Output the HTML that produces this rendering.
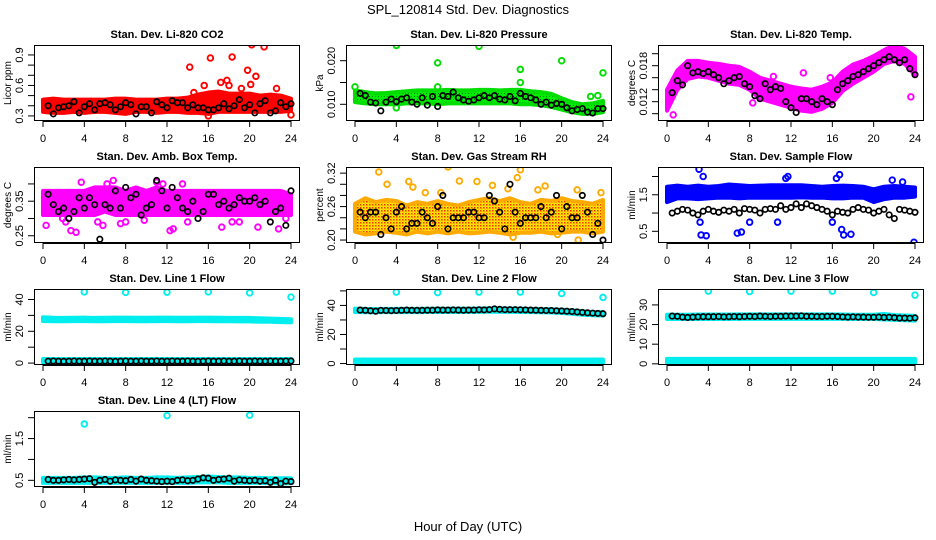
<!DOCTYPE html>
<html><head><meta charset="utf-8"><style>
html,body{margin:0;padding:0;background:#fff;}
svg{display:block;font-family:"Liberation Sans",Arial,sans-serif;}
</style></head><body>
<svg id="chart" width="936" height="540" viewBox="0 0 936 540" xmlns="http://www.w3.org/2000/svg">
<defs>
<pattern id="rhpat" width="3" height="3" patternUnits="userSpaceOnUse"><rect width="3" height="3" fill="#ffee00"/><rect width="1.5" height="1.5" fill="#ee3300"/><rect x="1.5" y="1.5" width="1" height="1" fill="#ff8800"/></pattern>
<pattern id="grpat" width="3" height="3" patternUnits="userSpaceOnUse"><rect width="3" height="3" fill="#00ee00"/><rect width="1" height="1" fill="#007700"/></pattern>
</defs>
<text x="468" y="14" font-size="13" text-anchor="middle">SPL_120814  Std. Dev. Diagnostics</text>
<text x="468" y="531" font-size="13" text-anchor="middle">Hour of Day (UTC)</text>
</svg>
<script>
// shared hour positions for black (reference) series
const blkHours = [];
for (let i = 1; i <= 48; i++) blkHours.push(i * 0.5);
const bandHours = [0,1,2,3,4,5,6,7,8,9,10,11,12,13,14,15,16,17,18,19,20,21,22,23,24];
const xTicks = [0,4,8,12,16,20,24];

// Panel 1: CO2
const co2BandLo = [0.34,0.33,0.33,0.34,0.33,0.34,0.34,0.33,0.32,0.34,0.34,0.33,0.34,0.34,0.33,0.33,0.32,0.34,0.34,0.34,0.34,0.34,0.34,0.34,0.35];
const co2BandHi = [0.46,0.47,0.46,0.46,0.46,0.46,0.46,0.47,0.47,0.46,0.46,0.46,0.47,0.47,0.48,0.51,0.53,0.54,0.52,0.52,0.52,0.50,0.51,0.50,0.47];
const co2OutX = [14.2,16.2,18.3,19.8,20.2,21.4,20.6,17.2,17.8,15.6,14.6,19.2,22.6,24.0,16.0,20.1,18.0];
const co2OutY = [0.78,0.87,0.88,0.75,1.00,0.98,0.69,0.63,0.65,0.60,0.53,0.57,0.57,0.31,0.30,0.61,0.60];
const co2Black = [0.40,0.32,0.38,0.39,0.40,0.44,0.33,0.39,0.42,0.36,0.42,0.43,0.41,0.36,0.39,0.43,0.41,0.32,0.39,0.39,0.33,0.44,0.41,0.38,0.45,0.43,0.43,0.38,0.41,0.38,0.38,0.36,0.36,0.38,0.42,0.37,0.40,0.46,0.38,0.41,0.33,0.42,0.45,0.33,0.35,0.43,0.39,0.42];

// Panel 2: pressure
const presBandLo = [0.0105,0.0102,0.0100,0.0100,0.0100,0.0102,0.0102,0.0102,0.0100,0.0102,0.0102,0.0102,0.0102,0.0102,0.0102,0.0102,0.0100,0.0100,0.0098,0.0094,0.0088,0.0082,0.0078,0.0078,0.0082];
const presBandHi = [0.0132,0.0128,0.0125,0.0126,0.0128,0.0130,0.0132,0.0132,0.0132,0.0133,0.0132,0.0132,0.0133,0.0133,0.0132,0.0133,0.0133,0.0130,0.0128,0.0124,0.0114,0.0105,0.0100,0.0102,0.0108];
const presOutX = [4.0,12.0,8.0,16.0,20.0,24.0,0.0,16.0,8.0,4.0,23.5,22.8];
const presOutY = [0.0235,0.0233,0.0195,0.0180,0.0200,0.0172,0.0140,0.0150,0.0140,0.0092,0.0120,0.0118];
const presBlack = [0.0125,0.0120,0.0105,0.0103,0.0085,0.0105,0.0112,0.0106,0.0112,0.0115,0.0105,0.0100,0.0115,0.0098,0.0118,0.0095,0.0120,0.0118,0.0128,0.0115,0.0110,0.0107,0.0110,0.0115,0.0120,0.0115,0.0120,0.0112,0.0110,0.0118,0.0108,0.0125,0.0118,0.0115,0.0110,0.0100,0.0105,0.0098,0.0102,0.0100,0.0092,0.0085,0.0088,0.0090,0.0082,0.0080,0.0090,0.0090];

// Panel 3: Li-820 temperature
const tempBandLo = [0.0105,0.0140,0.0158,0.0162,0.0160,0.0155,0.0150,0.0148,0.0140,0.0125,0.0120,0.0115,0.0110,0.0105,0.0103,0.0108,0.0118,0.0138,0.0150,0.0160,0.0170,0.0183,0.0188,0.0183,0.0165];
const tempBandHi = [0.0140,0.0172,0.0188,0.0188,0.0185,0.0183,0.0180,0.0178,0.0170,0.0160,0.0155,0.0150,0.0145,0.0142,0.0140,0.0145,0.0152,0.0170,0.0182,0.0188,0.0196,0.0206,0.0214,0.0208,0.0195];
const tempOutX = [0.6,10.3,13.2,15.8,23.6,8.3,6.2];
const tempOutY = [0.0098,0.0162,0.0168,0.0160,0.0128,0.0118,0.0158];
const tempBlack = [0.0135,0.0155,0.0148,0.0180,0.0168,0.0170,0.0167,0.0170,0.0165,0.0160,0.0150,0.0155,0.0160,0.0162,0.0150,0.0145,0.0130,0.0125,0.0150,0.0140,0.0145,0.0142,0.0120,0.0110,0.0102,0.0125,0.0125,0.0120,0.0115,0.0125,0.0120,0.0115,0.0140,0.0150,0.0155,0.0162,0.0165,0.0170,0.0175,0.0180,0.0185,0.0190,0.0195,0.0190,0.0185,0.0190,0.0175,0.0165];

// Panel 4: ambient box temperature
const ambBandLo = [0.31,0.31,0.31,0.31,0.31,0.31,0.32,0.31,0.31,0.31,0.31,0.31,0.31,0.31,0.31,0.31,0.31,0.31,0.31,0.31,0.31,0.31,0.31,0.31,0.31];
const ambBandHi = [0.38,0.38,0.38,0.38,0.38,0.39,0.39,0.39,0.38,0.39,0.38,0.39,0.38,0.38,0.38,0.38,0.38,0.38,0.38,0.38,0.38,0.38,0.38,0.38,0.37];
const ambOutX = [0.3,2.7,3.2,2.2,5.8,6.2,6.8,7.5,8.0,9.8,11.0,11.6,12.3,12.6,14.0,17.3,18.3,19.0,20.8,22.8,23.5,3.7,5.3,1.9,13.5];
const ambOutY = [0.28,0.265,0.26,0.29,0.28,0.40,0.41,0.285,0.29,0.295,0.405,0.40,0.265,0.27,0.29,0.275,0.29,0.29,0.275,0.27,0.30,0.405,0.29,0.30,0.40];
const ambBlack = [0.37,0.34,0.32,0.33,0.30,0.32,0.36,0.33,0.36,0.34,0.24,0.34,0.33,0.38,0.33,0.39,0.36,0.37,0.31,0.33,0.34,0.41,0.38,0.33,0.39,0.36,0.33,0.32,0.35,0.30,0.32,0.37,0.37,0.34,0.35,0.33,0.34,0.36,0.35,0.35,0.36,0.34,0.35,0.29,0.32,0.33,0.28,0.38];

// Panel 5: gas stream RH
const rhBandLo = [0.215,0.210,0.212,0.215,0.213,0.210,0.215,0.212,0.215,0.212,0.215,0.212,0.213,0.215,0.213,0.210,0.213,0.213,0.215,0.212,0.213,0.215,0.215,0.212,0.215];
const rhBandHi = [0.265,0.275,0.268,0.272,0.270,0.262,0.268,0.265,0.270,0.265,0.262,0.268,0.272,0.275,0.270,0.275,0.268,0.265,0.272,0.270,0.275,0.270,0.268,0.265,0.272];
const rhOutX = [2.3,9.0,16.0,3.1,5.2,5.6,10.1,11.8,13.3,14.8,17.7,18.4,21.5,23.8,6.8,8.3,15.3,21.6,19.6,15.7];
const rhOutY = [0.322,0.331,0.326,0.300,0.305,0.295,0.306,0.305,0.298,0.292,0.290,0.297,0.290,0.285,0.285,0.285,0.205,0.200,0.210,0.312];
const rhBlack = [0.25,0.24,0.25,0.25,0.21,0.24,0.22,0.25,0.26,0.22,0.23,0.23,0.25,0.24,0.23,0.26,0.28,0.22,0.24,0.24,0.24,0.25,0.25,0.24,0.24,0.28,0.27,0.25,0.22,0.30,0.25,0.23,0.24,0.24,0.24,0.26,0.24,0.25,0.28,0.22,0.26,0.24,0.24,0.28,0.25,0.21,0.23,0.20];

// Panel 6: sample flow
const sfBandLo = [1.30,1.40,1.40,1.38,1.40,1.42,1.42,1.40,1.42,1.42,1.42,1.42,1.42,1.43,1.42,1.42,1.40,1.40,1.42,1.42,1.30,1.38,1.42,1.42,1.45];
const sfBandHi = [1.72,1.75,1.72,1.75,1.72,1.74,1.78,1.76,1.74,1.75,1.76,1.76,1.76,1.76,1.74,1.72,1.74,1.75,1.74,1.72,1.65,1.72,1.74,1.72,1.70];
const sfOutX = [3.1,3.3,3.8,3.5,8.0,10.7,11.5,11.7,16.4,16.7,16.9,17.1,17.8,21.8,22.8,6.8,7.2,23.9,3.2,16.0];
const sfOutY = [2.2,0.40,0.38,2.0,0.75,0.75,1.95,2.0,1.95,2.05,0.55,0.40,0.42,1.9,1.85,0.45,0.48,0.20,0.75,0.75];
const sfBlack = [1.0,1.05,1.1,1.08,1.0,0.95,1.05,1.1,1.05,1.02,1.08,1.05,1.1,1.0,1.12,1.1,1.08,1.0,1.1,1.12,1.1,1.2,1.1,1.15,1.25,1.15,1.25,1.2,1.15,1.1,1.05,0.95,1.05,1.02,1.0,1.1,1.15,1.1,1.08,1.0,1.05,1.1,0.95,0.85,1.1,1.08,1.05,1.02];

// Panel 7: line 1 flow
const l1BandLo = [26.5,26.3,26.3,26.4,26.4,26.3,26.3,26.4,26.4,26.3,26.3,26.4,26.4,26.3,26.3,26.4,26.4,26.3,26.3,26.2,26.2,26.0,26.0,25.8,25.6];
const l1BandHi = [28.8,28.5,28.4,28.5,28.6,28.4,28.5,28.6,28.6,28.5,28.5,28.6,28.6,28.5,28.5,28.6,28.6,28.5,28.4,28.4,28.4,28.2,28.0,27.8,27.6];
const l1LowLo = [0.5,0.5,0.5,0.5,0.5,0.5,0.5,0.5,0.5,0.5,0.5,0.5,0.5,0.5,0.5,0.5,0.5,0.5,0.5,0.5,0.5,0.5,0.5,0.5,0.5];
const l1LowHi = [2.6,2.6,2.6,2.6,2.6,2.6,2.6,2.6,2.6,2.6,2.6,2.6,2.6,2.6,2.6,2.6,2.6,2.6,2.6,2.6,2.6,2.6,2.6,2.6,2.6];
const l1OutX = [4,8,12,16,20,24];
const l1OutY = [44.8,44.5,44.6,44.8,44.2,41.5];
const l1Black = [1.2,1.3,1.2,1.1,1.2,1.3,1.2,1.2,1.3,1.2,1.2,1.3,1.2,1.1,1.2,1.3,1.2,1.2,1.3,1.2,1.2,1.3,1.2,1.2,1.3,1.2,1.2,1.3,1.2,1.1,1.2,1.3,1.2,1.2,1.3,1.2,1.2,1.3,1.2,1.2,1.3,1.2,1.2,1.3,1.2,1.2,1.3,1.3];

// Panel 8: line 2 flow
const l2BandLo = [35.5,35.3,35.3,35.4,35.4,35.4,35.4,35.5,35.5,35.5,35.5,35.6,35.6,35.7,35.6,35.6,35.5,35.4,35.3,35.1,34.8,34.3,33.6,33.2,33.0];
const l2BandHi = [37.8,37.5,37.5,37.6,37.6,37.6,37.6,37.7,37.7,37.7,37.8,37.8,37.9,38.0,37.9,37.8,37.7,37.6,37.5,37.3,37.0,36.6,36.0,35.5,35.3];
const l2LowLo = [0.4,0.4,0.4,0.4,0.4,0.4,0.4,0.4,0.4,0.4,0.4,0.4,0.4,0.4,0.4,0.4,0.4,0.4,0.4,0.4,0.4,0.4,0.4,0.4,0.4];
const l2LowHi = [2.8,2.8,2.8,2.8,2.8,2.8,2.8,2.8,2.8,2.8,2.8,2.8,2.8,2.8,2.8,2.8,2.8,2.8,2.8,2.8,2.8,2.8,2.8,2.8,2.8];
const l2OutX = [4,8,12,16,20,24];
const l2OutY = [49.2,48.8,49.2,49.2,48.2,45.5];
const l2Black = [36.8,36.6,36.3,36.0,36.6,36.5,36.4,36.5,36.6,36.8,36.6,36.6,36.6,36.7,36.7,36.9,36.8,36.8,36.9,36.8,36.7,36.8,36.8,37.0,36.9,37.1,37.6,37.3,37.1,37.1,37.1,37.0,36.9,36.8,36.7,36.6,36.5,36.5,36.3,36.2,36.0,35.8,35.5,35.2,34.9,34.7,34.5,34.3];

// Panel 9: line 3 flow
const l3BandLo = [22.8,22.8,22.8,22.8,22.8,22.8,22.8,22.9,22.9,22.9,22.9,22.9,22.9,22.9,22.9,22.9,22.9,22.9,22.8,22.8,22.8,22.6,22.4,22.2,22.0];
const l3BandHi = [25.0,25.0,25.0,25.1,25.1,25.1,25.1,25.2,25.2,25.2,25.2,25.2,25.2,25.2,25.2,25.2,25.2,25.1,25.0,25.0,25.0,25.4,24.8,24.6,24.4];
const l3LowLo = [0.4,0.4,0.4,0.4,0.4,0.4,0.4,0.4,0.4,0.4,0.4,0.4,0.4,0.4,0.4,0.4,0.4,0.4,0.4,0.4,0.4,0.4,0.4,0.4,0.4];
const l3LowHi = [2.5,2.5,2.5,2.5,2.5,2.5,2.5,2.5,2.5,2.5,2.5,2.5,2.5,2.5,2.5,2.5,2.5,2.5,2.5,2.5,2.5,2.5,2.5,2.5,2.5];
const l3OutX = [4,8,12,16,20,24];
const l3OutY = [37.0,36.8,37.0,37.0,36.3,35.0];
const l3Black = [24.3,24.2,23.8,23.6,23.8,23.9,24.0,24.0,24.0,24.1,23.9,24.0,24.1,24.0,24.1,24.2,24.1,24.3,24.2,24.1,24.2,24.2,24.3,24.3,24.3,24.4,24.2,24.2,24.1,24.1,24.2,24.2,24.1,23.9,23.8,23.9,23.8,23.8,23.7,23.7,23.8,23.6,23.7,23.5,23.3,23.3,23.2,23.4];

// Panel 10: line 4 (LT) flow
const l4BandLo = [0.44,0.44,0.44,0.44,0.44,0.44,0.44,0.44,0.44,0.44,0.44,0.44,0.44,0.44,0.44,0.45,0.45,0.45,0.44,0.44,0.44,0.44,0.43,0.43,0.43];
const l4BandHi = [0.56,0.56,0.56,0.56,0.57,0.57,0.56,0.56,0.57,0.56,0.56,0.57,0.57,0.56,0.57,0.58,0.59,0.58,0.57,0.57,0.56,0.56,0.55,0.55,0.55];
const l4OutX = [4,12,20];
const l4OutY = [1.85,2.05,2.06];
const l4Black = [0.52,0.50,0.50,0.51,0.52,0.51,0.52,0.53,0.54,0.45,0.50,0.52,0.48,0.51,0.50,0.49,0.52,0.48,0.53,0.50,0.49,0.48,0.47,0.48,0.47,0.50,0.51,0.49,0.50,0.53,0.56,0.55,0.50,0.52,0.53,0.55,0.48,0.51,0.50,0.49,0.50,0.48,0.49,0.45,0.50,0.42,0.48,0.47];

const NS = 'http://www.w3.org/2000/svg';
const svg = document.getElementById('chart');
function mk(tag, attrs, parent) {
  const e = document.createElementNS(NS, tag);
  for (const k in attrs) e.setAttribute(k, attrs[k]);
  (parent || svg).appendChild(e);
  return e;
}

const panels = [
  {id:'co2', c:0, r:0, title:'Stan. Dev. Li-820 CO2', ylab:'Licor ppm', ymin:0.25, ymax:0.998, ticks:[0.3,0.4,0.5,0.6,0.7,0.8,0.9], labels:[[0.3,'0.3'],[0.6,'0.6'],[0.9,'0.9']], color:'#ff0000', fill:'#ff0000', bands:[[co2BandLo,co2BandHi]], outX:co2OutX, outY:co2OutY, blk:co2Black},
  {id:'pressure', c:1, r:0, title:'Stan. Dev. Li-820 Pressure', ylab:'kPa', ymin:0.00617, ymax:0.0236, ticks:[0.010,0.015,0.020], labels:[[0.010,'0.010'],[0.020,'0.020']], color:'#00dd00', fill:'url(#grpat)', bands:[[presBandLo,presBandHi]], outX:presOutX, outY:presOutY, blk:presBlack},
  {id:'li820-temp', c:2, r:0, title:'Stan. Dev. Li-820 Temp.', ylab:'degrees C', ymin:0.00878, ymax:0.02145, ticks:[0.010,0.012,0.014,0.016,0.018,0.020], labels:[[0.012,'0.012'],[0.018,'0.018']], color:'#ff00ff', fill:'#ff00ff', bands:[[tempBandLo,tempBandHi]], outX:tempOutX, outY:tempOutY, blk:tempBlack},
  {id:'amb-temp', c:0, r:1, title:'Stan. Dev. Amb. Box Temp.', ylab:'degrees C', ymin:0.229, ymax:0.449, ticks:[0.25,0.30,0.35,0.40], labels:[[0.25,'0.25'],[0.35,'0.35']], color:'#ff00ff', fill:'#ff00ff', bands:[[ambBandLo,ambBandHi]], outX:ambOutX, outY:ambOutY, blk:ambBlack},
  {id:'rh', c:1, r:1, title:'Stan. Dev. Gas Stream RH', ylab:'percent', ymin:0.1947, ymax:0.331, ticks:[0.20,0.22,0.24,0.26,0.28,0.30,0.32], labels:[[0.20,'0.20'],[0.26,'0.26'],[0.32,'0.32']], color:'#ffaa00', fill:'url(#rhpat)', bands:[[rhBandLo,rhBandHi]], outX:rhOutX, outY:rhOutY, blk:rhBlack},
  {id:'sample-flow', c:2, r:1, title:'Stan. Dev. Sample Flow', ylab:'ml/min', ymin:0.18, ymax:2.26, ticks:[0.5,1.0,1.5,2.0], labels:[[0.5,'0.5'],[1.5,'1.5']], color:'#0000ff', fill:'#0000ff', bands:[[sfBandLo,sfBandHi]], outX:sfOutX, outY:sfOutY, blk:sfBlack},
  {id:'line1-flow', c:0, r:2, title:'Stan. Dev. Line 1 Flow', ylab:'ml/min', ymin:-1.2, ymax:46.6, ticks:[0,10,20,30,40], labels:[[0,'0'],[20,'20'],[40,'40']], color:'#00eeee', fill:'#00eeee', bands:[[l1BandLo,l1BandHi],[l1LowLo,l1LowHi]], outX:l1OutX, outY:l1OutY, blk:l1Black},
  {id:'line2-flow', c:1, r:2, title:'Stan. Dev. Line 2 Flow', ylab:'ml/min', ymin:-1.0, ymax:51.3, ticks:[0,10,20,30,40,50], labels:[[0,'0'],[20,'20'],[40,'40']], color:'#00eeee', fill:'#00eeee', bands:[[l2BandLo,l2BandHi],[l2LowLo,l2LowHi]], outX:l2OutX, outY:l2OutY, blk:l2Black},
  {id:'line3-flow', c:2, r:2, title:'Stan. Dev. Line 3 Flow', ylab:'ml/min', ymin:-0.6, ymax:38.1, ticks:[0,10,20,30], labels:[[0,'0'],[10,'10'],[20,'20'],[30,'30']], color:'#00eeee', fill:'#00eeee', bands:[[l3BandLo,l3BandHi],[l3LowLo,l3LowHi]], outX:l3OutX, outY:l3OutY, blk:l3Black},
  {id:'line4-flow', c:0, r:3, title:'Stan. Dev. Line 4 (LT) Flow', ylab:'ml/min', ymin:0.34, ymax:2.16, ticks:[0.5,1.0,1.5,2.0], labels:[[0.5,'0.5'],[1.5,'1.5']], color:'#00eeee', fill:'#00eeee', bands:[[l4BandLo,l4BandHi]], outX:l4OutX, outY:l4OutY, blk:l4Black}
];

panels.forEach(p => {
  const L = 34 + 312 * p.c, R = 300 + 312 * p.c;
  const T = 45 + 122 * p.r, B = T + 76;
  const colL = 312 * p.c;
  const xs = h => L + 9 + h * (248 / 24);
  const ys = v => B - (v - p.ymin) / (p.ymax - p.ymin) * (B - T);
  const g = mk('g', {});
  
  
  const clipId = 'clip-' + p.id;
  const cp = mk('clipPath', {id: clipId}, g);
  mk('rect', {x: L, y: T, width: R - L, height: B - T}, cp);
  const plot = mk('g', {'clip-path': 'url(#' + clipId + ')'}, g);
  
  
  p.bands.forEach(bd => {
    const lo = bd[0], hi = bd[1];
    let pts = [];
    for (let i = 0; i < bandHours.length; i++) pts.push(xs(bandHours[i]) + ',' + ys(hi[i]));
    for (let i = bandHours.length - 1; i >= 0; i--) pts.push(xs(bandHours[i]) + ',' + ys(lo[i]));
    const poly = mk('polygon', {points: pts.join(' '), fill: p.fill, stroke: p.color, 'stroke-width': 4, 'stroke-linejoin': 'round'}, plot);
    
    
  });
  for (let i = 0; i < p.outX.length; i++) {
    const c = mk('circle', {cx: xs(p.outX[i]), cy: ys(p.outY[i]), r: 2.8, fill: 'none', stroke: p.color, 'stroke-width': 1.9}, plot);
    
    
  }
  for (let i = 0; i < p.blk.length; i++) {
    const c = mk('circle', {cx: xs(blkHours[i]), cy: ys(p.blk[i]), r: 2.7, fill: 'none', stroke: '#000', 'stroke-width': 1.7}, plot);
    
    
  }
  const box = mk('rect', {x: L + 0.5, y: T + 0.5, width: R - L - 1, height: B - T - 1, fill: 'none', stroke: '#000', 'stroke-width': 1}, g);
  
  
  const xa = mk('g', {}, g);
  
  
  mk('line', {x1: xs(0), x2: xs(24), y1: B + 0.5, y2: B + 0.5, stroke: '#000'}, xa);
  xTicks.forEach(t => {
    mk('line', {x1: xs(t), x2: xs(t), y1: B, y2: B + 6, stroke: '#000'}, xa);
    const tx = mk('text', {x: xs(t), y: B + 21, 'font-size': 11, 'text-anchor': 'middle'}, xa);
    
    
    tx.textContent = String(t);
  });
  const ya = mk('g', {}, g);
  
  
  mk('line', {x1: L + 0.5, x2: L + 0.5, y1: ys(p.ticks[0]), y2: ys(p.ticks[p.ticks.length - 1]), stroke: '#000'}, ya);
  p.ticks.forEach(t => {
    mk('line', {x1: L - 6, x2: L, y1: ys(t), y2: ys(t), stroke: '#000'}, ya);
  });
  p.labels.forEach(lb => {
    const yy = ys(lb[0]);
    const tx = mk('text', {x: colL + 23, y: yy, 'font-size': 11, 'text-anchor': 'middle', transform: 'rotate(-90 ' + (colL + 23) + ' ' + yy + ')'}, ya);
    
    
    tx.textContent = lb[1];
  });
  const cy = (T + B) / 2;
  const yl = mk('text', {x: colL + 11, y: cy, 'font-size': 10, 'text-anchor': 'middle', transform: 'rotate(-90 ' + (colL + 11) + ' ' + cy + ')'}, g);
  
  
  yl.textContent = p.ylab;
  const tt = mk('text', {x: (L + R) / 2, y: T - 7, 'font-size': 11, 'font-weight': 'bold', 'text-anchor': 'middle'}, g);
  
  
  tt.textContent = p.title;
});
</script>
</body></html>
